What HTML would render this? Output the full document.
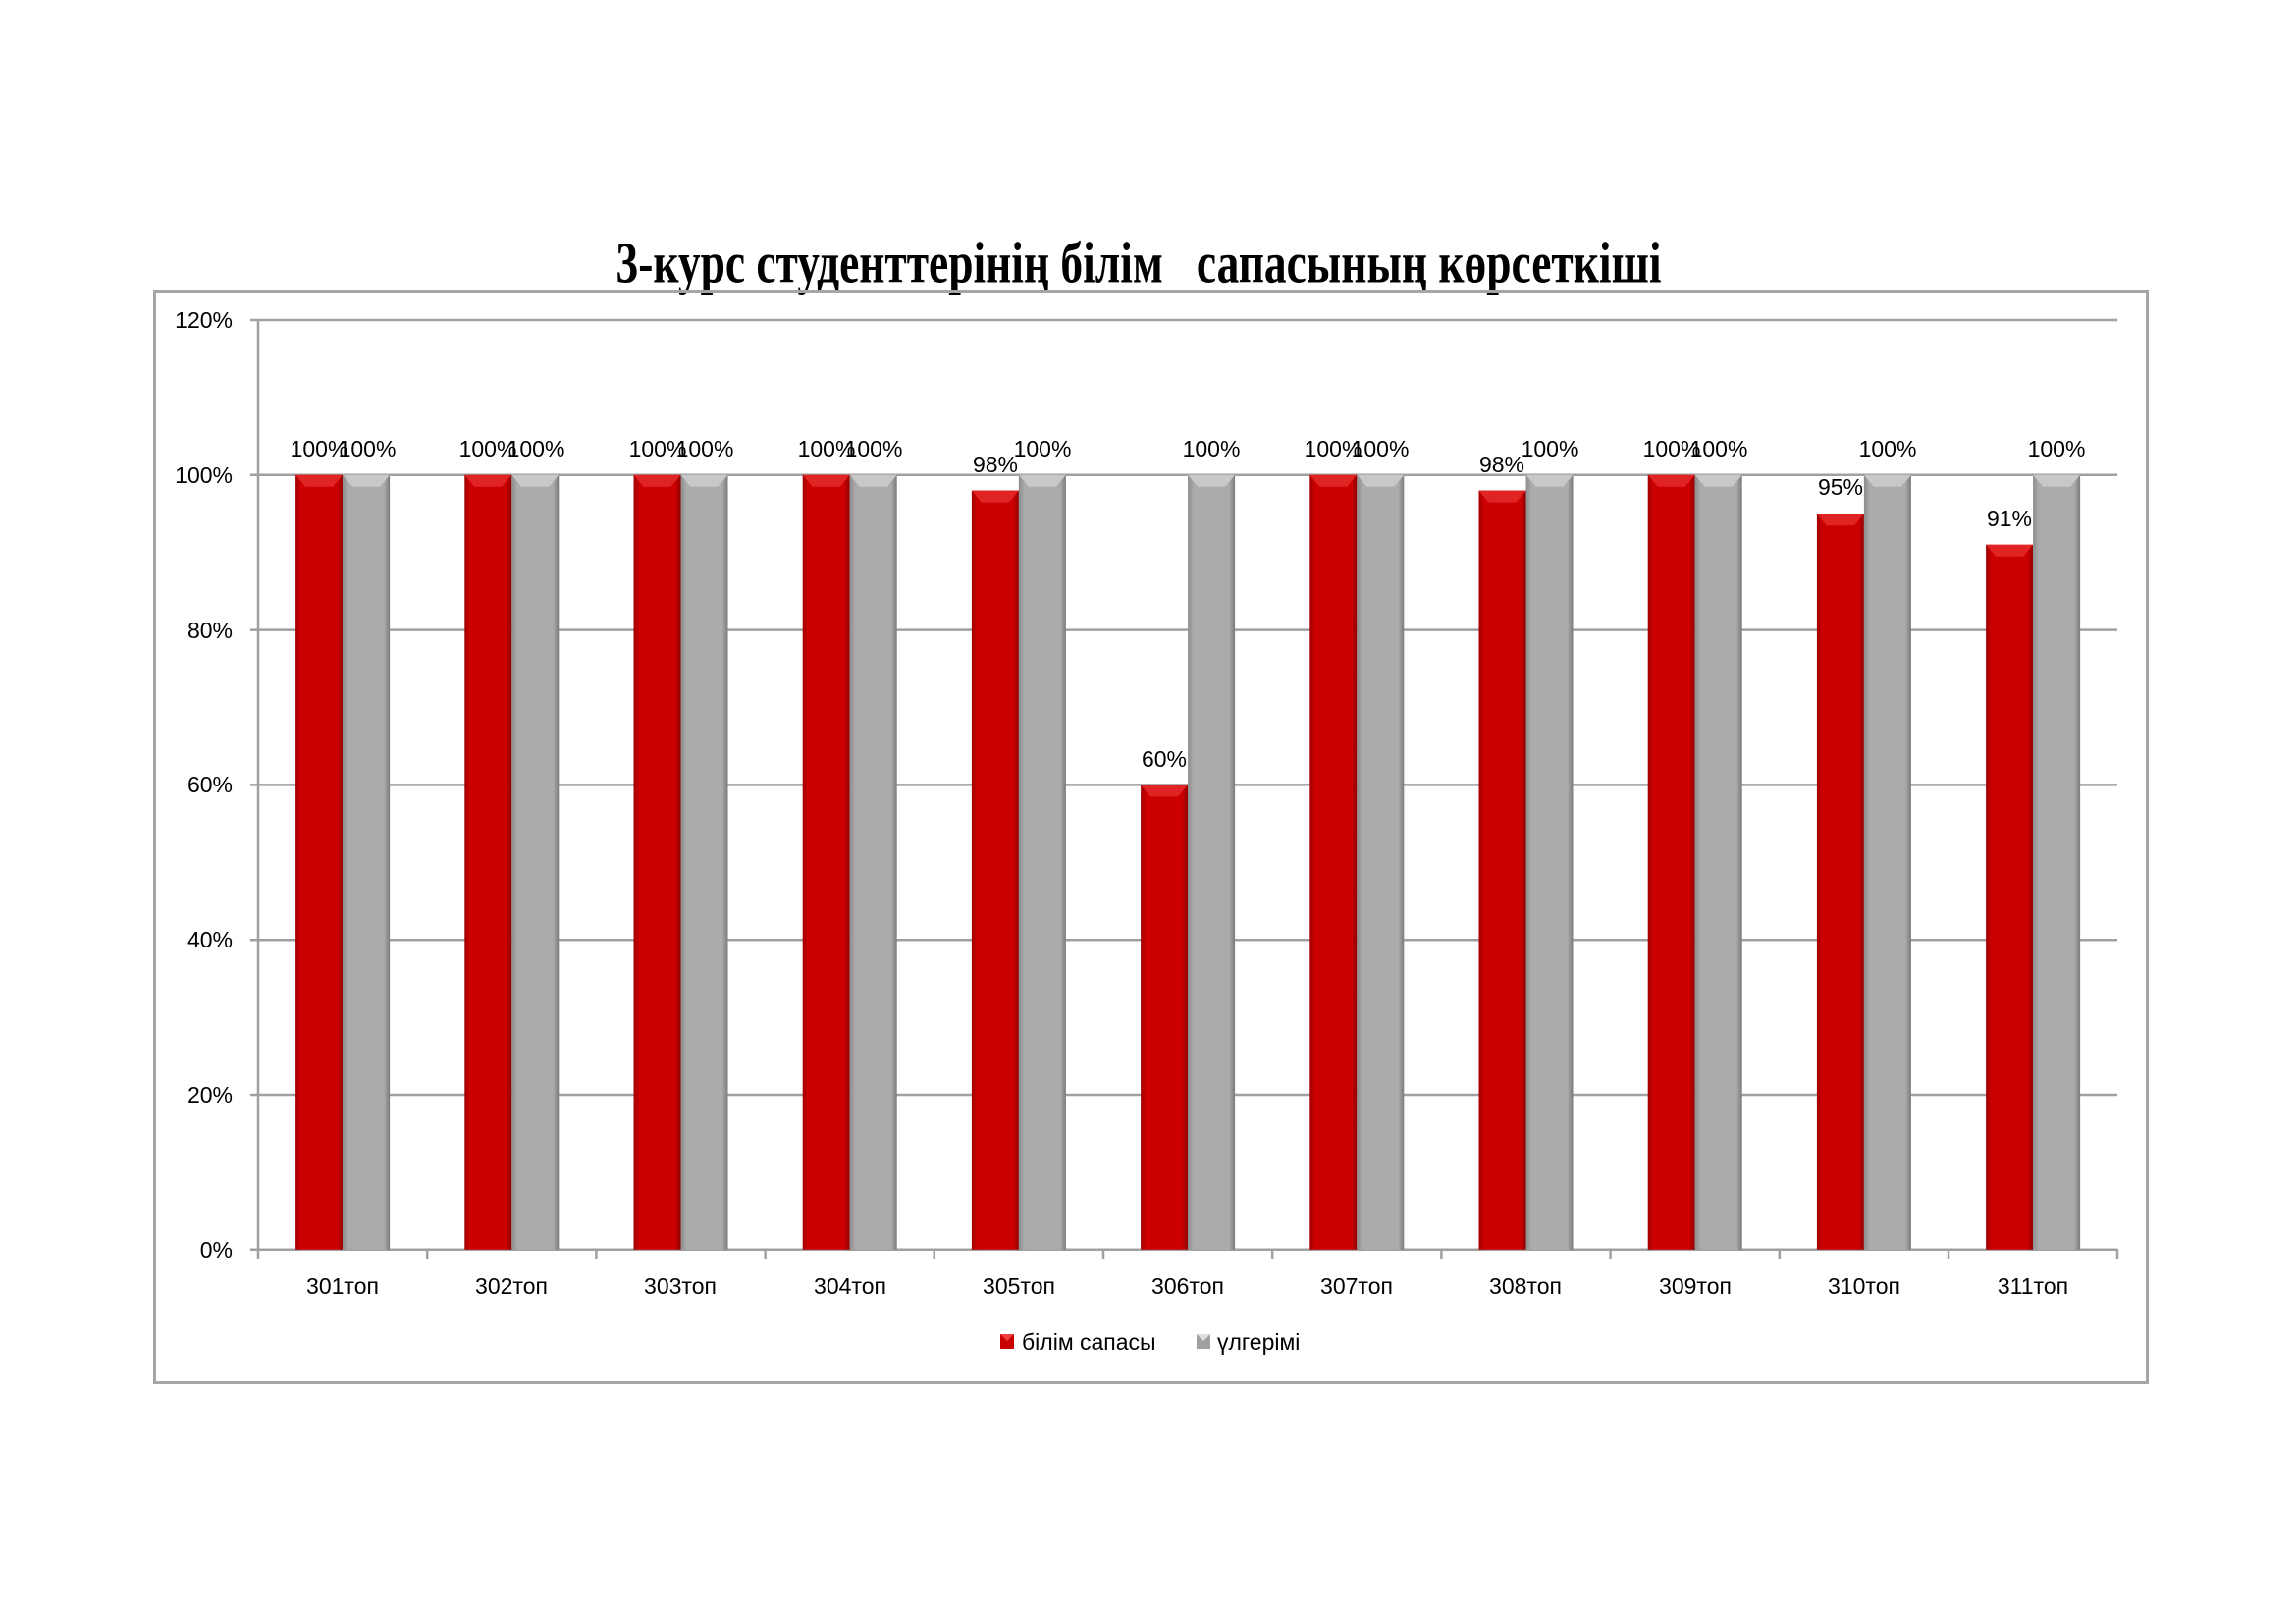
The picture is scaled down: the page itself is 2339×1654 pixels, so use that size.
<!DOCTYPE html>
<html><head><meta charset="utf-8"><style>
html,body{margin:0;padding:0;background:#fff}
svg{display:block}
text{font-family:"Liberation Sans",sans-serif;fill:#000}
</style></head><body>
<svg width="2339" height="1654" viewBox="0 0 2339 1654" xmlns="http://www.w3.org/2000/svg">
<defs>
<linearGradient id="rg" x1="0" x2="1" y1="0" y2="0">
<stop offset="0" stop-color="#a00000"/><stop offset="0.12" stop-color="#cc0000"/><stop offset="0.88" stop-color="#cc0000"/><stop offset="1" stop-color="#900000"/></linearGradient>
<linearGradient id="gg" x1="0" x2="1" y1="0" y2="0">
<stop offset="0" stop-color="#8c8c8c"/><stop offset="0.12" stop-color="#ababab"/><stop offset="0.88" stop-color="#ababab"/><stop offset="1" stop-color="#7a7a7a"/></linearGradient>
</defs>
<text x="1160" y="288" text-anchor="middle" font-weight="bold" font-size="46" textLength="1065" lengthAdjust="spacingAndGlyphs" xml:space="preserve" style="font-family:'Liberation Serif',serif" transform="translate(0,-87) scale(1,1.3)">3-курс студенттерінің білім   сапасының көрсеткіші</text>
<rect x="157.5" y="296.5" width="2030" height="1112" fill="none" stroke="#a6a6a6" stroke-width="3"/>
<g stroke="#a0a0a0" stroke-width="2.5">
<line x1="255" y1="326" x2="2157" y2="326"/>
<line x1="255" y1="483.8" x2="2157" y2="483.8"/>
<line x1="255" y1="641.6" x2="2157" y2="641.6"/>
<line x1="255" y1="799.4" x2="2157" y2="799.4"/>
<line x1="255" y1="957.2" x2="2157" y2="957.2"/>
<line x1="255" y1="1115" x2="2157" y2="1115"/>
<line x1="255" y1="1272.8" x2="2157" y2="1272.8"/>
<line x1="263" y1="326" x2="263" y2="1282"/>
<line x1="435.2" y1="1272" x2="435.2" y2="1282"/><line x1="607.4" y1="1272" x2="607.4" y2="1282"/><line x1="779.6" y1="1272" x2="779.6" y2="1282"/><line x1="951.8" y1="1272" x2="951.8" y2="1282"/><line x1="1124" y1="1272" x2="1124" y2="1282"/><line x1="1296.2" y1="1272" x2="1296.2" y2="1282"/><line x1="1468.4" y1="1272" x2="1468.4" y2="1282"/><line x1="1640.6" y1="1272" x2="1640.6" y2="1282"/><line x1="1812.8" y1="1272" x2="1812.8" y2="1282"/><line x1="1985" y1="1272" x2="1985" y2="1282"/><line x1="2157" y1="1272" x2="2157" y2="1282"/>
</g>
<g font-size="23" text-anchor="end">
<text x="237" y="334">120%</text><text x="237" y="492">100%</text><text x="237" y="650">80%</text><text x="237" y="807">60%</text><text x="237" y="965">40%</text><text x="237" y="1123">20%</text><text x="237" y="1281">0%</text>
</g>
<g>
<g transform="translate(301.1,483.8)"><rect width="48" height="789" fill="url(#rg)"/><polygon points="0,0 48,0 38,12 10,12" fill="#e02424"/></g>
<g transform="translate(473.3,483.8)"><rect width="48" height="789" fill="url(#rg)"/><polygon points="0,0 48,0 38,12 10,12" fill="#e02424"/></g>
<g transform="translate(645.5,483.8)"><rect width="48" height="789" fill="url(#rg)"/><polygon points="0,0 48,0 38,12 10,12" fill="#e02424"/></g>
<g transform="translate(817.7,483.8)"><rect width="48" height="789" fill="url(#rg)"/><polygon points="0,0 48,0 38,12 10,12" fill="#e02424"/></g>
<g transform="translate(989.9,499.6)"><rect width="48" height="773.2" fill="url(#rg)"/><polygon points="0,0 48,0 38,12 10,12" fill="#e02424"/></g>
<g transform="translate(1162.1,799.4)"><rect width="48" height="473.4" fill="url(#rg)"/><polygon points="0,0 48,0 38,12 10,12" fill="#e02424"/></g>
<g transform="translate(1334.3,483.8)"><rect width="48" height="789" fill="url(#rg)"/><polygon points="0,0 48,0 38,12 10,12" fill="#e02424"/></g>
<g transform="translate(1506.5,499.6)"><rect width="48" height="773.2" fill="url(#rg)"/><polygon points="0,0 48,0 38,12 10,12" fill="#e02424"/></g>
<g transform="translate(1678.7,483.8)"><rect width="48" height="789" fill="url(#rg)"/><polygon points="0,0 48,0 38,12 10,12" fill="#e02424"/></g>
<g transform="translate(1850.9,523.2)"><rect width="48" height="749.6" fill="url(#rg)"/><polygon points="0,0 48,0 38,12 10,12" fill="#e02424"/></g>
<g transform="translate(2023.1,554.8)"><rect width="48" height="718" fill="url(#rg)"/><polygon points="0,0 48,0 38,12 10,12" fill="#e02424"/></g>
<g transform="translate(349.1,483.8)"><rect width="48" height="789" fill="url(#gg)"/><polygon points="0,0 48,0 38,12 10,12" fill="#c8c8c8"/></g>
<g transform="translate(521.3,483.8)"><rect width="48" height="789" fill="url(#gg)"/><polygon points="0,0 48,0 38,12 10,12" fill="#c8c8c8"/></g>
<g transform="translate(693.5,483.8)"><rect width="48" height="789" fill="url(#gg)"/><polygon points="0,0 48,0 38,12 10,12" fill="#c8c8c8"/></g>
<g transform="translate(865.7,483.8)"><rect width="48" height="789" fill="url(#gg)"/><polygon points="0,0 48,0 38,12 10,12" fill="#c8c8c8"/></g>
<g transform="translate(1037.9,483.8)"><rect width="48" height="789" fill="url(#gg)"/><polygon points="0,0 48,0 38,12 10,12" fill="#c8c8c8"/></g>
<g transform="translate(1210.1,483.8)"><rect width="48" height="789" fill="url(#gg)"/><polygon points="0,0 48,0 38,12 10,12" fill="#c8c8c8"/></g>
<g transform="translate(1382.3,483.8)"><rect width="48" height="789" fill="url(#gg)"/><polygon points="0,0 48,0 38,12 10,12" fill="#c8c8c8"/></g>
<g transform="translate(1554.5,483.8)"><rect width="48" height="789" fill="url(#gg)"/><polygon points="0,0 48,0 38,12 10,12" fill="#c8c8c8"/></g>
<g transform="translate(1726.7,483.8)"><rect width="48" height="789" fill="url(#gg)"/><polygon points="0,0 48,0 38,12 10,12" fill="#c8c8c8"/></g>
<g transform="translate(1898.9,483.8)"><rect width="48" height="789" fill="url(#gg)"/><polygon points="0,0 48,0 38,12 10,12" fill="#c8c8c8"/></g>
<g transform="translate(2071.1,483.8)"><rect width="48" height="789" fill="url(#gg)"/><polygon points="0,0 48,0 38,12 10,12" fill="#c8c8c8"/></g>
</g>
<g font-size="23" text-anchor="middle">
<text x="325" y="465">100%</text><text x="374" y="465">100%</text>
<text x="497" y="465">100%</text><text x="546" y="465">100%</text>
<text x="670" y="465">100%</text><text x="718" y="465">100%</text>
<text x="842" y="465">100%</text><text x="890" y="465">100%</text>
<text x="1014" y="481">98%</text><text x="1062" y="465">100%</text>
<text x="1186" y="781">60%</text><text x="1234" y="465">100%</text>
<text x="1358" y="465">100%</text><text x="1406" y="465">100%</text>
<text x="1530" y="481">98%</text><text x="1579" y="465">100%</text>
<text x="1703" y="465">100%</text><text x="1751" y="465">100%</text>
<text x="1875" y="504">95%</text><text x="1923" y="465">100%</text>
<text x="2047" y="536">91%</text><text x="2095" y="465">100%</text>
</g>
<g font-size="23" text-anchor="middle">
<text x="349" y="1318">301топ</text><text x="521" y="1318">302топ</text><text x="693" y="1318">303топ</text><text x="866" y="1318">304топ</text><text x="1038" y="1318">305топ</text><text x="1210" y="1318">306топ</text><text x="1382" y="1318">307топ</text><text x="1554" y="1318">308топ</text><text x="1727" y="1318">309топ</text><text x="1899" y="1318">310топ</text><text x="2071" y="1318">311топ</text>
</g>
<rect x="1019" y="1359" width="14" height="15" fill="#c80000"/>
<polygon points="1019,1359 1033,1359 1026,1366" fill="#ee4040"/>
<text x="1041" y="1375" font-size="23">білім сапасы</text>
<rect x="1219" y="1359" width="14" height="15" fill="#a0a0a0"/>
<polygon points="1219,1359 1233,1359 1226,1366" fill="#e0e0e0"/>
<text x="1240" y="1375" font-size="23">үлгерімі</text>
</svg>
</body></html>
